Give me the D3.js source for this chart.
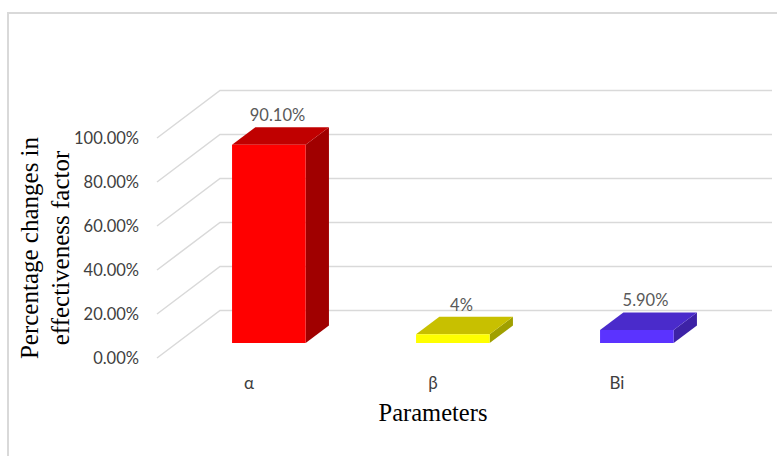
<!DOCTYPE html>
<html>
<head>
<meta charset="utf-8">
<script src="https://cdn.jsdelivr.net/npm/d3@7/dist/d3.min.js"></script>
<style>
  html, body { margin: 0; padding: 0; background: #fff; }
  svg { display: block; }
</style>
</head>
<body>
<div id="chart"></div>
<script>
// ---- data ----
const categories = ["α", "β", "Bi"];
const values = [0.901, 0.04, 0.059];
const valueLabels = ["90.10%", "4%", "5.90%"];
const yTicks = [0, 0.2, 0.4, 0.6, 0.8, 1.0];
const yTickLabels = ["0.00%", "20.00%", "40.00%", "60.00%", "80.00%", "100.00%"];
const frontColors = ["#FF0000", "#FFFF00", "#5B33FF"];
const topColors = ["#C00000", "#C8C000", "#4A2BCB"];
const sideColors = ["#A00000", "#A0A000", "#3D22A6"];
const yTitleLines = ["Percentage changes in", "effectiveness factor"];
const xTitle = "Parameters";

// ---- layout ----
const W = 777, H = 456;
const DX = 63, DY = -47.5;          // full depth offset of the 3D box
const barDepth = [0.315, 0.685];    // bars sit in the middle of the depth
const svg = d3.select("#chart").append("svg").attr("width", W).attr("height", H);

// chart border (only left/top visible)
svg.append("rect").attr("x", 8).attr("y", 13).attr("width", 900).attr("height", 600)
  .attr("fill", "none").attr("stroke", "#d9d9d9").attr("stroke-width", 2);

const x = d3.scaleBand().domain(categories).range([157, 709]).paddingInner(0).paddingOuter(0);
const y = d3.scaleLinear().domain([0, 1]).range([358, 138]);
const z = d3.scaleLinear().domain([0, 1]).range([0, 1]);
const proj = (px, py, d) => [px + DX * z(d), py + DY * z(d)];

// gridlines: side wall diagonals + back wall horizontals
const g = svg.append("g");
yTicks.forEach(t => {
  const a = proj(x.range()[0], y(t), 0);
  const b = proj(x.range()[0], y(t), 1);
  const c = proj(x.range()[1], y(t), 1);
  g.append("path").attr("d", `M${a[0]},${a[1]}L${b[0]},${b[1]}L${c[0]},${c[1]}`)
    .attr("fill", "none").attr("stroke", "#d9d9d9").attr("stroke-width", 1.5);
});

// y tick labels
svg.append("g").selectAll("text").data(yTicks).join("text")
  .attr("x", 139).attr("y", d => y(d)).attr("dy", "0.35em")
  .attr("text-anchor", "end")
  .style("font-family", "Lato, 'Open Sans', sans-serif").style("font-size", "16.5px")
  .style("fill", "#404040")
  .text((d, i) => yTickLabels[i]);

// bars
const bw = x.bandwidth() * 0.4;
const bars = svg.append("g");
categories.forEach((c, i) => {
  const cx = x(c) + x.bandwidth() / 2;
  const x0 = cx - bw / 2, x1 = cx + bw / 2;
  const yb = y(0), yt = y(values[i]);
  const d0 = barDepth[0], d1 = barDepth[1];
  const pt = (px, py, d) => proj(px, py, d).join(",");
  // side
  bars.append("path").attr("d",
    `M${pt(x1, yb, d0)}L${pt(x1, yb, d1)}L${pt(x1, yt, d1)}L${pt(x1, yt, d0)}Z`)
    .attr("fill", sideColors[i]);
  // top
  bars.append("path").attr("d",
    `M${pt(x0, yt, d0)}L${pt(x0, yt, d1)}L${pt(x1, yt, d1)}L${pt(x1, yt, d0)}Z`)
    .attr("fill", topColors[i]);
  // front
  bars.append("path").attr("d",
    `M${pt(x0, yb, d0)}L${pt(x1, yb, d0)}L${pt(x1, yt, d0)}L${pt(x0, yt, d0)}Z`)
    .attr("fill", frontColors[i]);
  // value label
  const lx = proj(cx, yt, 0.5)[0];
  const ly = proj(cx, yt, d1)[1];
  svg.append("text").attr("x", lx - 3).attr("y", ly - 6)
    .attr("text-anchor", "middle")
    .style("font-family", "Lato, 'Open Sans', sans-serif").style("font-size", "16.5px")
    .style("fill", "#595959")
    .text(valueLabels[i]);
});

// category labels
svg.append("g").selectAll("text").data(categories).join("text")
  .attr("x", d => x(d) + x.bandwidth() / 2).attr("y", 383).attr("dy", "0.35em")
  .attr("text-anchor", "middle")
  .style("font-family", "Lato, 'Open Sans', sans-serif").style("font-size", "17px")
  .style("fill", "#404040")
  .text(d => d);

// axis titles
svg.append("text").attr("x", (x.range()[0] + x.range()[1]) / 2).attr("y", 421)
  .attr("text-anchor", "middle")
  .style("font-family", "'Liberation Serif', 'Times New Roman', serif").style("font-size", "24.5px")
  .style("fill", "#000").text(xTitle);

const yt = svg.append("g");
[38, 69].forEach((bx, i) => {
  yt.append("text").attr("transform", `translate(${bx},248) rotate(-90)`)
    .attr("text-anchor", "middle")
    .style("font-family", "'Liberation Serif', 'Times New Roman', serif").style("font-size", "25px")
    .style("fill", "#000").text(yTitleLines[i]);
});
</script>
</body>
</html>
